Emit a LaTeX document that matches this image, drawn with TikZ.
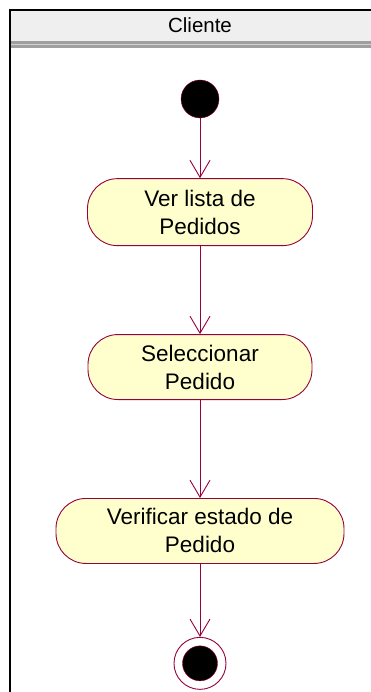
\documentclass[tikz,border=0pt]{standalone}
\usepackage{fontspec}
\setmainfont{Liberation Sans}
\usetikzlibrary{positioning,arrows.meta}
\definecolor{rosa}{RGB}{150,0,60}
\definecolor{crema}{RGB}{255,255,206}
\definecolor{cabecera}{RGB}{239,239,239}

\begin{document}
\begin{tikzpicture}[x=1pt, y=-1pt,
  flujo/.style={-{Straight Barb[length=17pt,width=20pt]}, draw=rosa, line width=0.9pt},
  inicio/.style={circle, draw=rosa, fill=black, minimum size=38pt, inner sep=0pt},
  actividad/.style={draw=rosa, fill=crema, line width=0.9pt, rounded corners=30pt,
    align=center, font=\fontsize{22.5}{28}\selectfont, inner sep=0pt},
  fin/.style={circle, draw=rosa, fill=white, line width=0.9pt, minimum size=52pt, inner sep=0pt},
  nucleo/.style={circle, draw=rosa, fill=black, minimum size=35pt, inner sep=0pt}]

  \useasboundingbox (0,0) rectangle (370,692);

  % carril
  \fill[cabecera] (10,10) rectangle (372,41);
  \fill[gray!75] (10,41) rectangle (372,48);
  \draw[gray!35, line width=1.5pt] (10,44.5) -- (372,44.5);
  \draw[line width=2pt] (10,694) -- (10,10) -- (372,10);
  \node (carril) at (200,25) [font=\fontsize{20.5}{22}\selectfont] {Cliente};

  \node (ini) [inicio] at (200,99) {};
  \node (lista) [actividad, minimum width=225pt, minimum height=67pt, below=60pt of ini]
    {Ver lista de\\Pedidos};
  \node (selec) [actividad, minimum width=224pt, minimum height=65pt, below=88pt of lista]
    {Seleccionar\\Pedido};
  \node (verif) [actividad, minimum width=288pt, minimum height=65pt, below=98pt of selec]
    {Verificar estado de\\Pedido};
  \node (fin) [fin, below=73pt of verif] {};
  \node (finc) [nucleo] at (fin.center) {};

  \path (ini) edge [flujo] (lista);
  \path (lista) edge [flujo] (selec);
  \path (selec) edge [flujo] (verif);
  \path (verif) edge [flujo] (fin);

\end{tikzpicture}
\end{document}
